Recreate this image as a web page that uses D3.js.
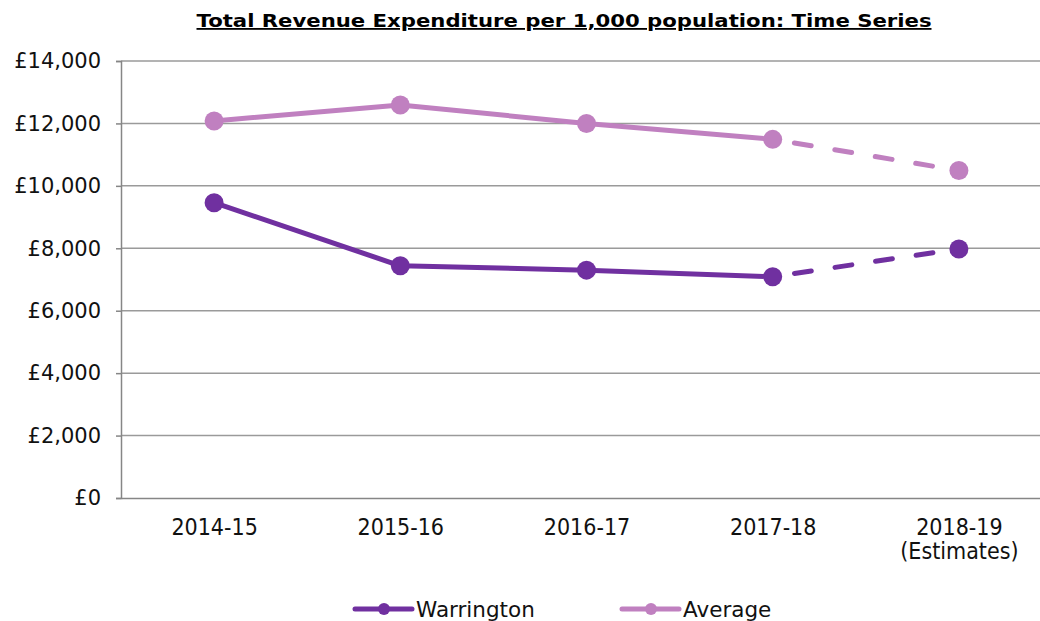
<!DOCTYPE html>
<html>
<head>
<meta charset="utf-8">
<script src="https://cdn.jsdelivr.net/npm/d3@7"></script>
<style>
  body { margin: 0; background: #fff; }
  svg { display: block; font-family: "DejaVu Sans", Verdana, sans-serif; }
</style>
</head>
<body>
<svg id="chart" width="1040" height="621"></svg>
<script>
// values
const years = ["2014-15", "2015-16", "2016-17", "2017-18", "2018-19"];
const yearNotes = ["", "", "", "", "(Estimates)"];
const warrington = [9460, 7440, 7300, 7090, 7980];
const average = [12080, 12590, 12000, 11490, 10490];
const yTicks = [0, 2000, 4000, 6000, 8000, 10000, 12000, 14000];

let margin = { top: 61, left: 121, right: -12, bottom: 123 },
  width = 1040 - margin.left - margin.right,
  height = 621 - margin.top - margin.bottom

const series = [
  { name: "Warrington", values: warrington, color: "#7030a0" },
  { name: "Average", values: average, color: "#c080c0" }
]

let svg = d3.select("#chart")

let x = d3.scalePoint()
  .domain(years)
  .range([0, width])
  .padding(0.5)

let y = d3.scaleLinear()
  .domain([0, 14000])
  .range([height, 0])

let g = svg.append("g")
  .attr("transform", "translate(" + margin.left + "," + margin.top + ")")

// gridlines
g.append("g")
  .selectAll("line")
  .data(yTicks.filter(d => d > 0))
  .enter().append("line")
  .attr("x1", 0)
  .attr("x2", width)
  .attr("y1", d => y(d))
  .attr("y2", d => y(d))
  .attr("stroke", "#9a9a9a")
  .attr("stroke-width", 1.5)

// y axis
let yAxis = g.append("g")
  .call(d3.axisLeft(y)
    .tickValues(yTicks)
    .tickSize(5)
    .tickPadding(15)
    .tickFormat(d => "£" + d3.format(",")(d)))
yAxis.select(".domain").attr("stroke", "#868686").attr("stroke-width", 1.5)
yAxis.selectAll(".tick line").attr("stroke", "#868686").attr("stroke-width", 1.5)
yAxis.selectAll(".tick text")
  .attr("fill", "#111")
  .style("font-size", "21px")
  .attr("font-family", "DejaVu Sans, Verdana, sans-serif")

// x axis
let xAxis = g.append("g")
  .attr("transform", "translate(0," + height + ")")
  .call(d3.axisBottom(x).tickSize(0).tickPadding(21))
xAxis.select(".domain").attr("stroke", "#868686").attr("stroke-width", 1.5)
xAxis.selectAll(".tick text")
  .attr("fill", "#111")
  .style("font-size", "23px")
  .attr("font-family", "DejaVu Sans Condensed, DejaVu Sans, sans-serif")
xAxis.selectAll(".tick")
  .append("text")
  .attr("y", 45)
  .attr("dy", "0.71em")
  .attr("fill", "#111")
  .attr("text-anchor", "middle")
  .style("font-size", "23px")
  .attr("font-family", "DejaVu Sans Condensed, DejaVu Sans, sans-serif")
  .text((d, i) => yearNotes[i])

// lines: solid for actuals, dashed for the estimate
let line = d3.line()
  .x(d => x(d.year))
  .y(d => y(d.value))

series.forEach(function(s) {
  let pts = years.map((yr, i) => ({ year: yr, value: s.values[i] }))
  g.append("path")
    .datum(pts.slice(0, 4))
    .attr("d", line)
    .attr("fill", "none")
    .attr("stroke", s.color)
    .attr("stroke-width", 5)
    .attr("stroke-linejoin", "round")
  g.append("path")
    .datum(pts.slice(3))
    .attr("d", line)
    .attr("fill", "none")
    .attr("stroke", s.color)
    .attr("stroke-width", 5)
    .attr("stroke-linecap", "round")
    .attr("stroke-dasharray", "17,24")
    .attr("stroke-dashoffset", -22)
  g.selectAll(null)
    .data(pts)
    .enter().append("circle")
    .attr("cx", d => x(d.year))
    .attr("cy", d => y(d.value))
    .attr("r", 9.5)
    .attr("fill", s.color)
})

// title
svg.append("text")
  .attr("x", 564)
  .attr("y", 27)
  .attr("text-anchor", "middle")
  .attr("font-weight", "bold")
  .attr("text-decoration", "underline")
  .attr("fill", "#000")
  .style("font-size", "18px")
  .attr("textLength", 735)
  .attr("lengthAdjust", "spacingAndGlyphs")
  .text("Total Revenue Expenditure per 1,000 population: Time Series")

// legend
let legendX = [355, 622]
let legend = svg.append("g")
series.forEach(function(s, i) {
  let lg = legend.append("g").attr("transform", "translate(" + legendX[i] + ",609)")
  lg.append("line")
    .attr("x1", 0).attr("x2", 57)
    .attr("stroke", s.color)
    .attr("stroke-width", 5)
    .attr("stroke-linecap", "round")
  lg.append("circle")
    .attr("cx", 29).attr("r", 6)
    .attr("fill", s.color)
  lg.append("text")
    .attr("x", 61)
    .attr("dy", "0.35em")
    .attr("fill", "#111")
    .style("font-size", "21.5px")
    .text(s.name)
})
</script>
</body>
</html>
